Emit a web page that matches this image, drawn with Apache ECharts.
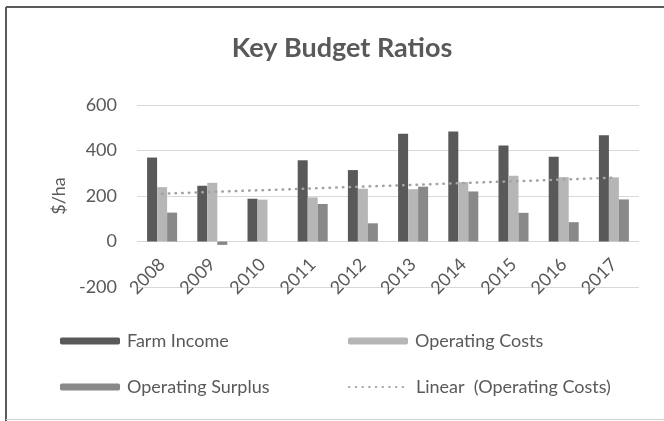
<!DOCTYPE html>
<html>
<head>
<meta charset="utf-8">
<script src="https://cdn.jsdelivr.net/npm/echarts@6/dist/echarts.min.js"></script>
<style>
  html, body { margin: 0; padding: 0; background: #ffffff; }
  #chart { width: 664px; height: 421px; }
</style>
</head>
<body>
<div id="chart"></div>
<script>
// Budget ratios by year, $/ha
const years = ['2008', '2009', '2010', '2011', '2012', '2013', '2014', '2015', '2016', '2017'];
const farmIncome = [369, 245, 188, 357, 314, 474, 483, 422, 372, 467];
const operatingCosts = [239, 258, 184, 194, 232, 230, 261, 289, 283, 282];
const operatingSurplus = [127, -15, 0, 165, 80, 241, 220, 126, 85, 185];
const yTicks = [-200, 0, 200, 400, 600];

// Least-squares linear trend of operating costs, evaluated at each year
function linearTrend(values) {
  const n = values.length;
  let sx = 0, sy = 0, sxy = 0, sxx = 0;
  values.forEach((v, i) => { const x = i + 1; sx += x; sy += v; sxy += x * v; sxx += x * x; });
  const slope = (n * sxy - sx * sy) / (n * sxx - sx * sx);
  const intercept = (sy - slope * sx) / n;
  return values.map((_, i) => +(intercept + slope * (i + 1)).toFixed(2));
}
const costTrend = linearTrend(operatingCosts);

const FONT = 'Lato, "Open Sans", sans-serif';
const TEXT = '#595959';
const TREND = '#a3a3a3';

const GRID_TOP = 105, GRID_BOTTOM = 134, CHART_H = 421;

const chart = echarts.init(document.getElementById('chart'), null, { renderer: 'canvas' });

// Category labels sit just under the zero line rather than at the grid bottom
const plotH = CHART_H - GRID_TOP - GRID_BOTTOM;
const zeroOffset = -plotH * (0 - yTicks[0]) / (yTicks[yTicks.length - 1] - yTicks[0]);

function legendAt(name, left, top, extra) {
  return Object.assign({
    data: [name],
    left: left,
    top: top,
    itemWidth: 60,
    itemHeight: 7,
    itemGap: 0,
    textStyle: { fontFamily: FONT, fontSize: 18, color: TEXT, padding: [0, 0, 0, 2] },
    selectedMode: false
  }, extra || {});
}

chart.setOption({
  backgroundColor: '#ffffff',
  animation: false,
  title: {
    text: 'Key Budget Ratios',
    left: 337,
    top: 30,
    textAlign: 'center',
    textStyle: { fontFamily: FONT, fontSize: 27, fontWeight: 'bold', color: TEXT }
  },
  graphic: [
    // chart frame
    { type: 'line', shape: { x1: 6, y1: 7, x2: 664, y2: 7 }, style: { stroke: '#5a5a5a', lineWidth: 2 } },
    { type: 'line', shape: { x1: 6, y1: 7, x2: 6, y2: 421 }, style: { stroke: '#5a5a5a', lineWidth: 2 } },
    { type: 'line', shape: { x1: 6, y1: 419.5, x2: 664, y2: 419.5 }, style: { stroke: '#d0d0d0', lineWidth: 1 } }
  ],
  legend: [
    legendAt('Farm Income', 55, 327),
    legendAt('Operating Costs', 343, 327),
    legendAt('Operating Surplus', 55, 373),
    legendAt('Linear  (Operating Costs)', 343, 373, {
      data: [{ name: 'Linear  (Operating Costs)', itemStyle: { opacity: 0 } }]
    })
  ],
  grid: { left: 137, right: 25, top: GRID_TOP, bottom: GRID_BOTTOM, containLabel: false },
  xAxis: {
    type: 'category',
    data: years,
    position: 'bottom',
    offset: zeroOffset,
    axisLine: { show: false, onZero: false },
    axisTick: { show: false },
    axisLabel: {
      rotate: 45,
      margin: 20,
      fontFamily: FONT,
      fontSize: 18,
      color: TEXT
    }
  },
  yAxis: {
    type: 'value',
    min: yTicks[0],
    max: yTicks[yTicks.length - 1],
    interval: 200,
    name: '$/ha',
    nameLocation: 'middle',
    nameGap: 68,
    nameRotate: 90,
    nameTextStyle: { fontFamily: FONT, fontSize: 18, color: TEXT },
    axisLine: { show: false },
    axisTick: { show: false },
    axisLabel: { margin: 20, fontFamily: FONT, fontSize: 18, color: TEXT },
    splitLine: { lineStyle: { color: '#d9d9d9', width: 1 } }
  },
  series: [
    {
      name: 'Farm Income', type: 'bar', data: farmIncome,
      barWidth: 10, barGap: '0%',
      itemStyle: { color: '#595959' }
    },
    {
      name: 'Operating Costs', type: 'bar', data: operatingCosts,
      barWidth: 10, barGap: '0%',
      itemStyle: { color: '#b6b6b6' }
    },
    {
      name: 'Operating Surplus', type: 'bar', data: operatingSurplus,
      barWidth: 10, barGap: '0%',
      itemStyle: { color: '#898989' }
    },
    {
      name: 'Linear  (Operating Costs)', type: 'line', data: costTrend,
      symbol: 'none', smooth: false,
      lineStyle: { color: TREND, width: 2.5, type: [0.5, 6.2], cap: 'round' },
      itemStyle: { color: TREND }
    }
  ]
});
</script>
</body>
</html>
